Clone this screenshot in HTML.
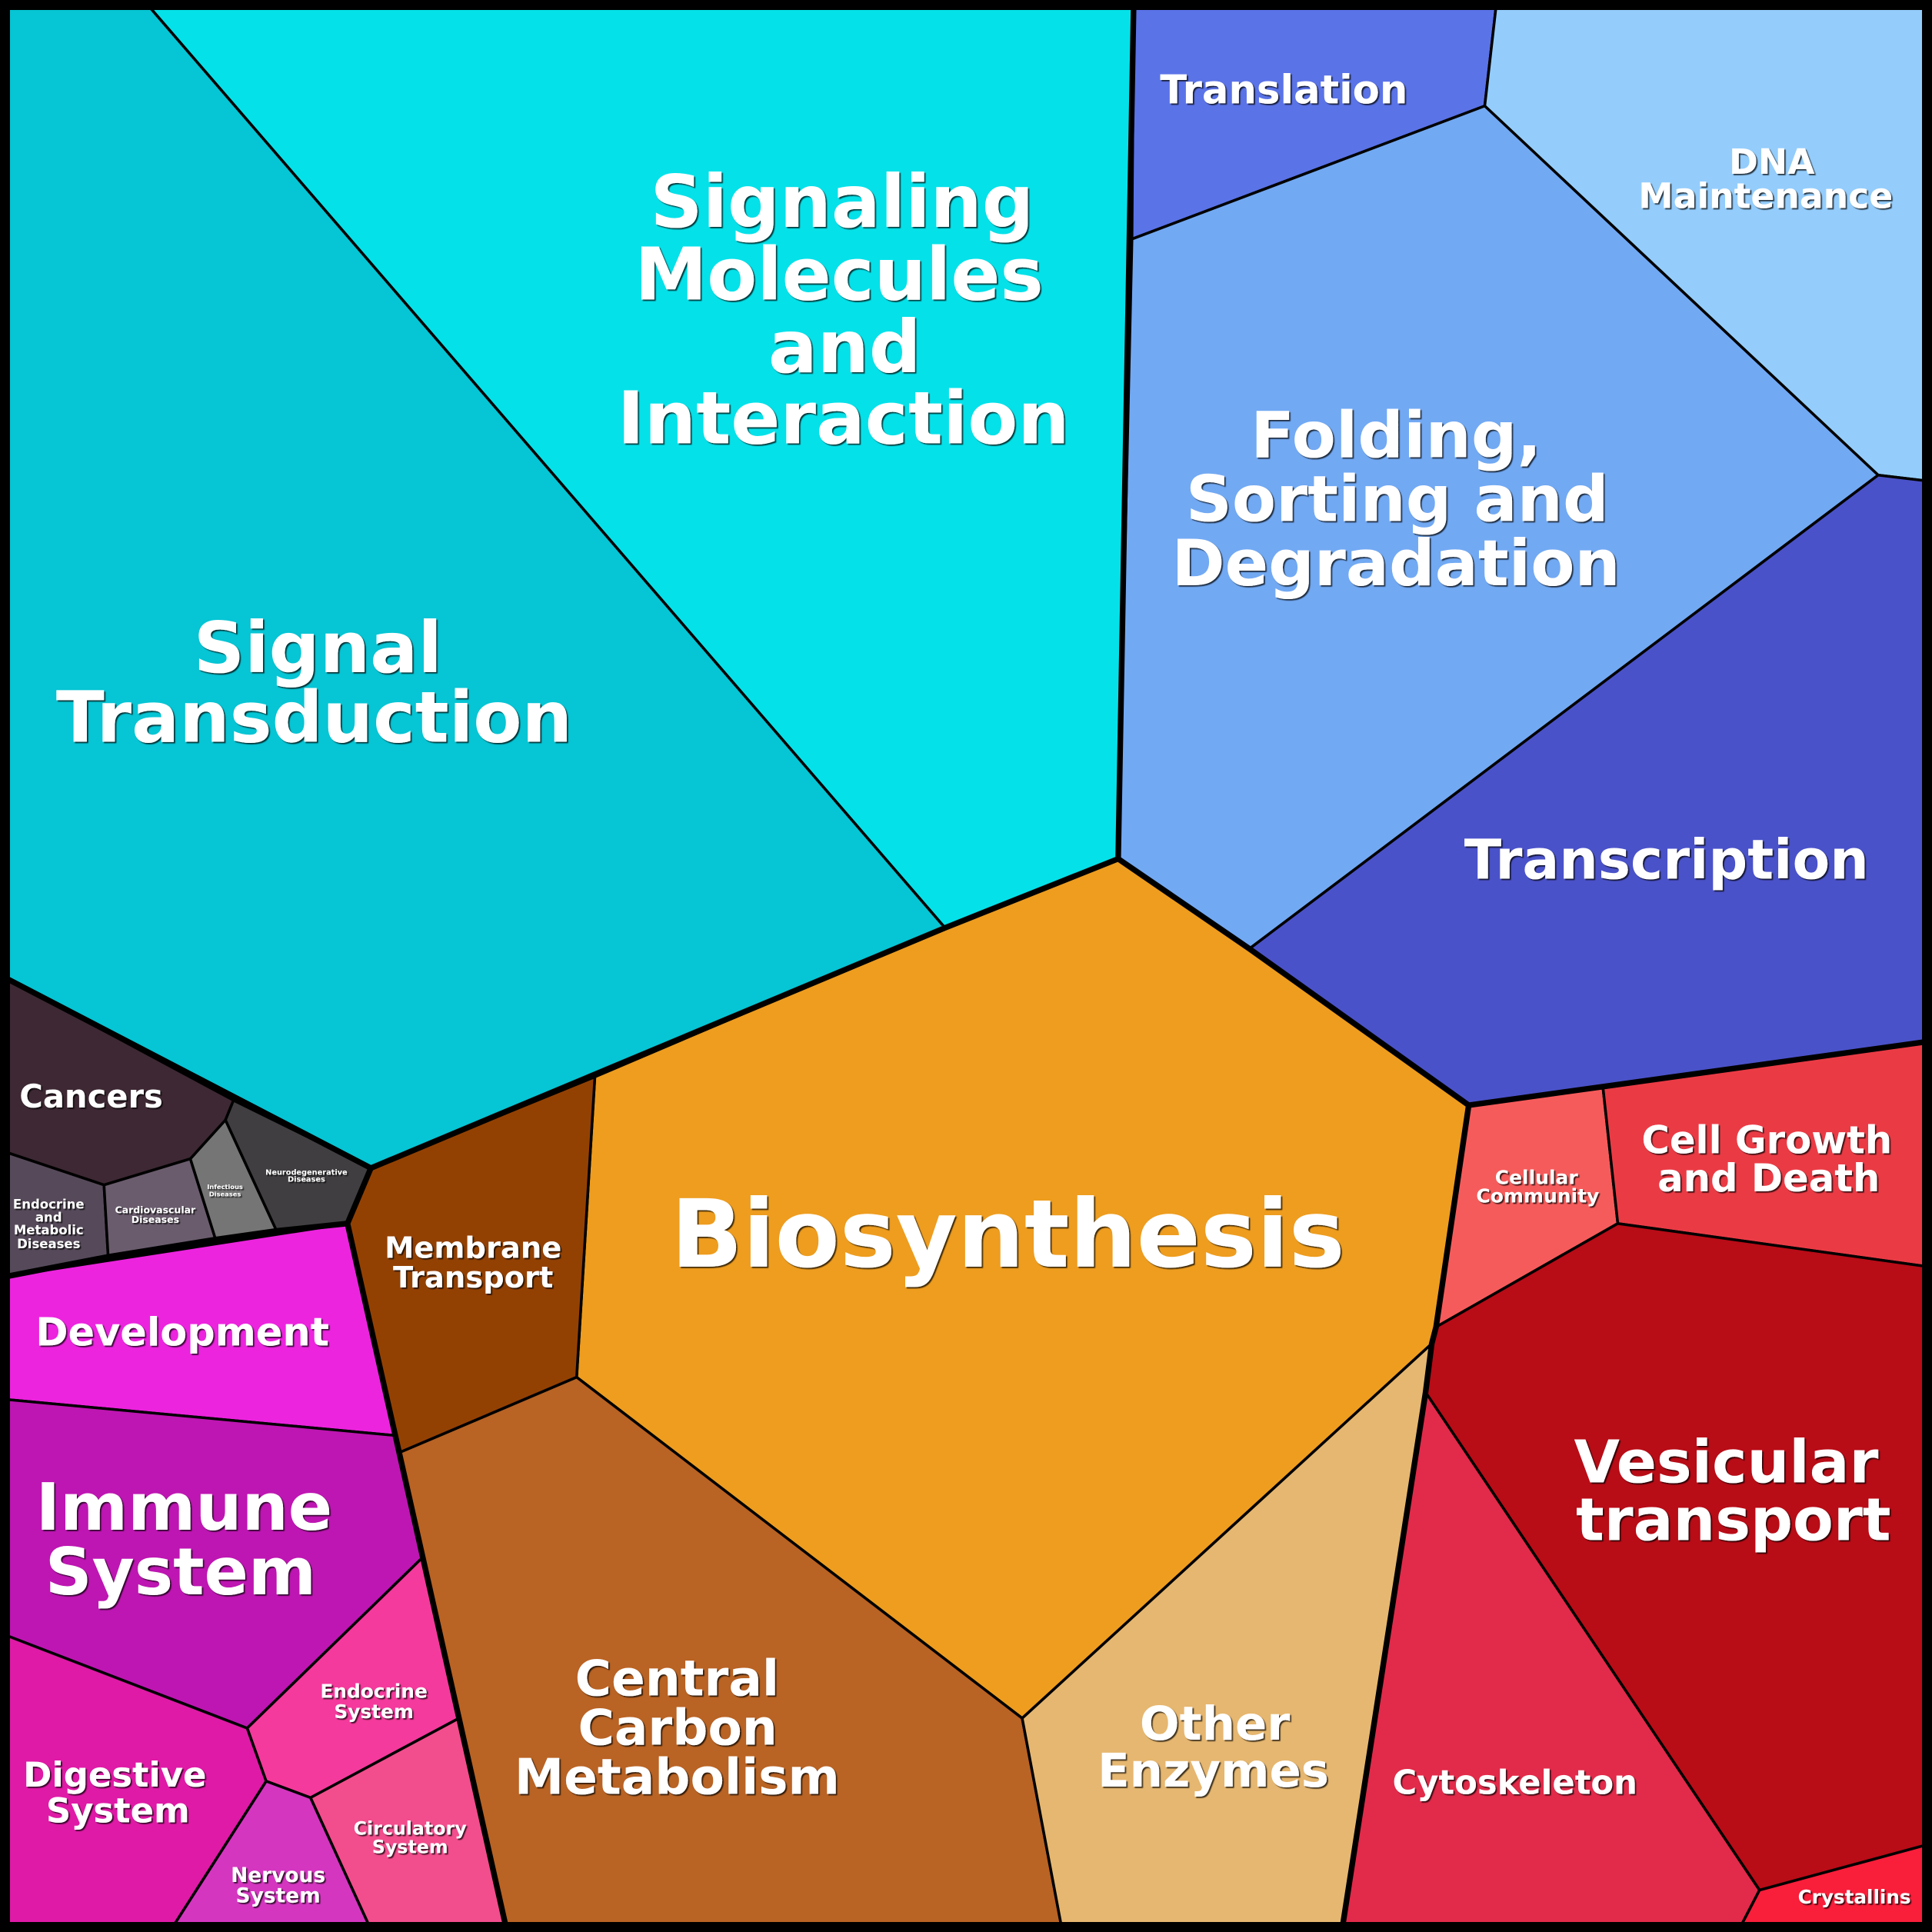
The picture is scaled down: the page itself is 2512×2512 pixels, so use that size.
<!DOCTYPE html>
<html><head><meta charset="utf-8"><style>
html,body{margin:0;padding:0;background:#000;}
svg{display:block;}
text{font-family:"DejaVu Sans","Liberation Sans",sans-serif;font-weight:bold;fill:#fff;text-anchor:middle;}
</style></head><body>
<svg width="2512" height="2512" viewBox="0 0 1568 1568" xmlns="http://www.w3.org/2000/svg">
<defs><filter id="sh" x="-10%" y="-10%" width="120%" height="130%"><feDropShadow dx="1.1" dy="1.1" stdDeviation="0.35" flood-color="#000" flood-opacity="0.75"/></filter></defs>
<rect x="0" y="0" width="1568" height="1568" fill="#000"/>
<g stroke="#000" stroke-width="2.2" stroke-linejoin="round">
<polygon fill="#06c5d4" points="7,7 122.5,7 767,753 301,948 7,795"/>
<polygon fill="#05e1e9" points="122.5,7 920,7 907.5,697 767,753"/>
<polygon fill="#5a73e7" points="920,7 1214,7 1205,86 918.7,194"/>
<polygon fill="#94cdfc" points="1214,7 1561,7 1561,390 1524.3,385.6 1205,86"/>
<polygon fill="#72a9f3" points="918.7,194 1205,86 1524.3,385.6 1014,770 907.5,697"/>
<polygon fill="#4a52c9" points="1524.3,385.6 1561,390 1561,845.8 1192,897 1014,770"/>
<polygon fill="#ee9d1f" points="907.5,697 1014,770 1192,897 1165.5,1077 1162,1090.5 829.6,1394.5 468,1117.7 482.8,874 767,753"/>
<polygon fill="#934103" points="301,948 482.8,874 468,1117.7 324,1179 282,993"/>
<polygon fill="#b96324" points="324,1179 468,1117.7 829.6,1394.5 861,1561 410,1561"/>
<polygon fill="#e6b770" points="1162,1090.5 1157,1130 1090,1561 861,1561 829.6,1394.5"/>
<polygon fill="#f65b5b" points="1192,897 1301,883 1313,993 1165.5,1077"/>
<polygon fill="#ea3b45" points="1301,883 1561,845.8 1561,1027.5 1313,993"/>
<polygon fill="#b80c17" points="1165.5,1077 1313,993 1561,1027.5 1561,1498 1428,1534 1157,1130 1162,1090.5"/>
<polygon fill="#e22a4a" points="1157,1130 1428,1534 1414,1561 1090,1561"/>
<polygon fill="#f91e3a" points="1428,1534 1561,1498 1561,1561 1414,1561"/>
<polygon fill="#ec24de" points="7,1035.6 282,993 320.5,1165 7,1136"/>
<polygon fill="#be16b2" points="7,1136 320.5,1165 343,1264 200.6,1402.6 7,1328"/>
<polygon fill="#f43a9c" points="343,1264 372.5,1394.5 252,1459 216,1445.6 200.6,1402.6"/>
<polygon fill="#f24d8d" points="252,1459 372.5,1394.5 410,1561 298.7,1561"/>
<polygon fill="#d436c0" points="216,1445.6 252,1459 298.7,1561 142,1561"/>
<polygon fill="#df1aa6" points="7,1328 200.6,1402.6 216,1445.6 142,1561 7,1561"/>
<polygon fill="#3d2833" points="7,795 189.5,893 183,909 154.5,940.5 84.4,961.7 7,935.8"/>
<polygon fill="#564a5a" points="7,935.8 84.4,961.7 87.8,1020 7,1035.6"/>
<polygon fill="#6a5c6d" points="84.4,961.7 154.5,940.5 175,1006 87.8,1020"/>
<polygon fill="#757575" points="154.5,940.5 183,909 224.5,999 175,1006"/>
<polygon fill="#403e41" points="189.5,893 301,948 282,993 224.5,999 183,909"/>
</g>
<g fill="none" stroke="#000" stroke-width="4.6" stroke-linejoin="round" stroke-linecap="round">
<polyline points="7,795 301,948 767,753 907.5,697 920,7"/>
<polyline points="907.5,697 1014,770 1192,897 1561,845.8"/>
<polyline points="301,948 282,993 324,1179 410,1561"/>
<polyline points="1192,897 1165.5,1077 1162,1090.5 1157,1130 1090,1561"/>
<polyline points="7,1035.6 87.8,1020 175,1006 224.5,999 282,993"/>
</g>
<rect x="3.5" y="3.5" width="1561" height="1561" fill="none" stroke="#000" stroke-width="7.5"/>
<g filter="url(#sh)">
<text font-size="59"><tspan x="683.5" y="184">Signaling</tspan><tspan x="681" y="243">Molecules</tspan><tspan x="685.5" y="302">and</tspan><tspan x="684.5" y="360">Interaction</tspan></text>
<text font-size="57.5"><tspan x="258" y="545.5">Signal</tspan><tspan x="255" y="602">Transduction</tspan></text>
<text font-size="52"><tspan x="1133" y="371">Folding,</tspan><tspan x="1134" y="423">Sorting and</tspan><tspan x="1133" y="475">Degradation</tspan></text>
<text font-size="44.3" x="1352.5" y="713">Transcription</text>
<text font-size="32" x="1042" y="84">Translation</text>
<text font-size="28.5"><tspan x="1438" y="141">DNA</tspan><tspan x="1433" y="169">Maintenance</tspan></text>
<text font-size="76.5" x="818" y="1028">Biosynthesis</text>
<text font-size="24"><tspan x="384" y="1021">Membrane</tspan><tspan x="384" y="1045">Transport</tspan></text>
<text font-size="40.3"><tspan x="549.5" y="1376">Central</tspan><tspan x="550" y="1416">Carbon</tspan><tspan x="549.5" y="1456">Metabolism</tspan></text>
<text font-size="38"><tspan x="986" y="1412">Other</tspan><tspan x="984.7" y="1450">Enzymes</tspan></text>
<text font-size="48"><tspan x="1401" y="1203">Vesicular</tspan><tspan x="1406.8" y="1250">transport</tspan></text>
<text font-size="27" x="1229.5" y="1456">Cytoskeleton</text>
<text font-size="15.4" x="1505" y="1545">Crystallins</text>
<text font-size="15.6"><tspan x="1247" y="961">Cellular</tspan><tspan x="1248" y="976">Community</tspan></text>
<text font-size="31"><tspan x="1434" y="936">Cell Growth</tspan><tspan x="1435.5" y="967">and Death</tspan></text>
<text font-size="31.8" x="148" y="1092">Development</text>
<text font-size="52.8"><tspan x="149.4" y="1241.5">Immune</tspan><tspan x="146.6" y="1294">System</tspan></text>
<text font-size="28"><tspan x="93.2" y="1450">Digestive</tspan><tspan x="95.7" y="1479">System</tspan></text>
<text font-size="15.5"><tspan x="303.4" y="1378">Endocrine</tspan><tspan x="303.4" y="1394.6">System</tspan></text>
<text font-size="14.8"><tspan x="332.8" y="1489">Circulatory</tspan><tspan x="332.8" y="1504">System</tspan></text>
<text font-size="16.5"><tspan x="225.7" y="1527.5">Nervous</tspan><tspan x="225.7" y="1544">System</tspan></text>
<text font-size="26" x="74" y="899">Cancers</text>
<text font-size="10.3"><tspan x="39.5" y="981">Endocrine</tspan><tspan x="39.5" y="991.5">and</tspan><tspan x="39.5" y="1002">Metabolic</tspan><tspan x="39.5" y="1013">Diseases</tspan></text>
<text font-size="7.8"><tspan x="126" y="984.6">Cardiovascular</tspan><tspan x="126" y="992.5">Diseases</tspan></text>
<text font-size="5.2"><tspan x="182.6" y="965">Infectious</tspan><tspan x="182.6" y="971">Diseases</tspan></text>
<text font-size="6.1"><tspan x="248.7" y="953.4">Neurodegenerative</tspan><tspan x="248.7" y="959.2">Diseases</tspan></text>
</g>
</svg>
</body></html>
